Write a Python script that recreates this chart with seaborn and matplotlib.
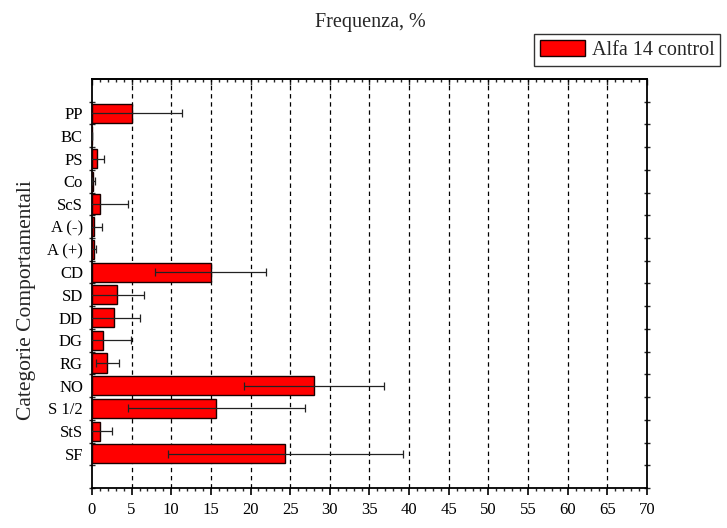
import matplotlib
matplotlib.use("Agg")
import matplotlib.pyplot as plt
from matplotlib.patches import Patch
from matplotlib.ticker import MultipleLocator, FixedLocator
import seaborn as sns
import pandas as pd

# Behavioural categories, listed top to bottom
categories = ["PP", "BC", "PS", "Co", "ScS", "A (-)", "A (+)", "CD",
              "SD", "DD", "DG", "RG", "NO", "S 1/2", "StS", "SF"]
# Mean frequency (%) and its spread for the "Alfa 14 control" group
frequency = [5.0, 0.0, 0.6, 0.15, 1.0, 0.3, 0.2, 15.0,
             3.1, 2.8, 1.45, 1.9, 28.0, 15.7, 1.0, 24.4]
spread = [6.3, 0.0, 0.95, 0.2, 3.5, 1.0, 0.35, 7.0,
          3.4, 3.3, 3.5, 1.45, 8.8, 11.2, 1.55, 14.8]
series_label = "Alfa 14 control"
x_ticks = list(range(0, 75, 5))

sns.set_theme(style="white")
plt.rcParams["font.family"] = ["Liberation Serif", "DejaVu Serif"]
plt.rcParams["axes.linewidth"] = 1.3

df = pd.DataFrame({"categoria": categories, "freq": frequency, "err": spread})

fig = plt.figure(figsize=(7.27, 5.28), dpi=100)
ax = fig.add_axes([0.1265, 0.0758, 0.7634, 0.7746])

sns.barplot(data=df, x="freq", y="categoria", order=categories, orient="h",
            color="#ff0000", saturation=1, width=0.84, errorbar=None,
            edgecolor="#1a0000", linewidth=1.0, ax=ax, zorder=3)

# symmetric error bars on top of each bar
ax.errorbar(df["freq"], range(len(categories)), xerr=df["err"], fmt="none",
            ecolor="#222222", elinewidth=0.9, capsize=2.8, capthick=0.9,
            zorder=4)

ax.set_xlim(0, 70)
ax.set_ylim(len(categories) + 0.5, -1.5)

# dashed vertical reference lines every 5 %
for v in x_ticks[1:-1]:
    ax.axvline(v, color="black", lw=0.9, ls=(0, (3.5, 3)), zorder=1)

for side in ["left", "right", "top", "bottom"]:
    ax.spines[side].set_visible(True)
    ax.spines[side].set_color("black")

ax.xaxis.set_major_locator(FixedLocator(x_ticks))
ax.xaxis.set_minor_locator(MultipleLocator(1))
ax.tick_params(axis="x", which="major", direction="out", length=5, width=1.2,
               labelsize=12, pad=5, colors="black", bottom=True)
ax.tick_params(axis="x", which="minor", direction="out", length=2.5, width=1.0,
               bottom=True)

ax.yaxis.set_minor_locator(FixedLocator([i - 0.5 for i in range(len(categories) + 2)]))
ax.tick_params(axis="y", which="major", length=0, labelsize=12, pad=6.5,
               colors="black")
ax.tick_params(axis="y", which="minor", direction="inout", length=4.5, width=1.0,
               left=True, right=True)

top = ax.secondary_xaxis("top")
top.xaxis.set_major_locator(FixedLocator(x_ticks))
top.xaxis.set_minor_locator(MultipleLocator(1))
top.tick_params(which="major", direction="in", length=4, width=1.0, labeltop=False)
top.tick_params(which="minor", direction="in", length=2.2, width=1.0)
top.spines["top"].set_linewidth(1.3)

ax.set_xlabel("")
ax.set_ylabel("")
fig.text(0.510, 0.958, "Frequenza, %", ha="center", va="center", fontsize=14.5)
fig.text(0.036, 0.432, "Categorie Comportamentali", rotation=90,
         ha="center", va="center", fontsize=15.5)

leg = fig.legend(handles=[Patch(facecolor="#ff0000", edgecolor="#1a0000", lw=1.0,
                                label=series_label)],
                 loc="upper right", bbox_to_anchor=(0.991, 0.935),
                 fontsize=14.5, frameon=True, fancybox=False, shadow=False,
                 handlelength=2.2, handleheight=0.85, handletextpad=0.35,
                 borderpad=0.3, borderaxespad=0.0)
leg.get_frame().set_edgecolor("black")
leg.get_frame().set_linewidth(1.0)

fig.savefig("out.png", dpi=100)
